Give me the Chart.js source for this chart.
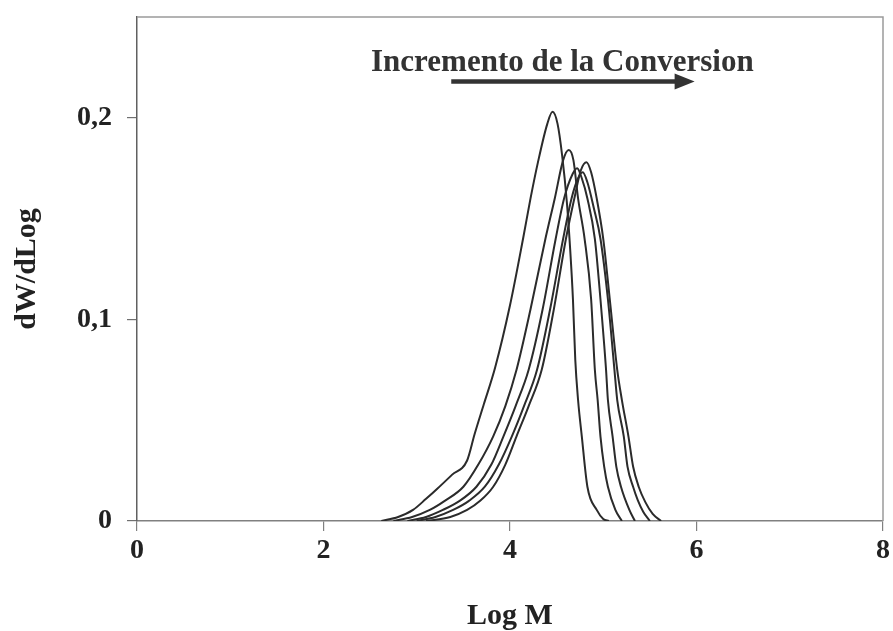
<!DOCTYPE html>
<html>
<head>
<meta charset="utf-8">
<script src="https://cdn.jsdelivr.net/npm/chart.js@4/dist/chart.umd.min.js"></script>
<style>
  html, body { margin: 0; padding: 0; background: #ffffff; }
  #wrap { width: 893px; height: 631px; }
</style>
</head>
<body>
<div id="wrap"><canvas id="c" width="893" height="631"></canvas></div>
<script>
// ---- data (x = Log M, y = dW/dLog) ----
const xTicks = [0, 2, 4, 6, 8];
const yTicks = [0, 0.1, 0.2];

const logM1 = [2.62, 2.8, 2.96, 3.1, 3.22, 3.38, 3.54, 3.62, 3.72, 3.84, 4.0, 4.14, 4.22, 4.3, 4.4, 4.456, 4.51, 4.56, 4.61, 4.645, 4.675, 4.70, 4.73, 4.77, 4.83, 4.93, 5.0, 5.06];
const dw1   = [0, 0.002, 0.0055, 0.011, 0.016, 0.023, 0.030, 0.043, 0.058, 0.076, 0.107, 0.14, 0.16, 0.178, 0.197, 0.203, 0.197, 0.181, 0.158, 0.135, 0.11, 0.08, 0.06, 0.042, 0.017, 0.0055, 0.001, 0];

const logM2 = [2.75, 2.95, 3.14, 3.3, 3.5, 3.66, 3.82, 3.95, 4.07, 4.22, 4.38, 4.48, 4.57, 4.63, 4.68, 4.73, 4.8, 4.87, 4.91, 4.94, 4.97, 5.01, 5.05, 5.13, 5.2];
const dw2   = [0, 0.002, 0.0055, 0.010, 0.017, 0.028, 0.042, 0.057, 0.075, 0.105, 0.14, 0.16, 0.179, 0.184, 0.179, 0.16, 0.14, 0.11, 0.075, 0.06, 0.042, 0.027, 0.017, 0.0055, 0];

const logM3 = [2.9, 3.1, 3.28, 3.46, 3.64, 3.8, 3.93, 4.06, 4.2, 4.35, 4.49, 4.58, 4.67, 4.72, 4.77, 4.83, 4.91, 4.97, 5.03, 5.05, 5.10, 5.14, 5.19, 5.28, 5.34];
const dw3   = [0, 0.002, 0.0055, 0.010, 0.017, 0.028, 0.042, 0.057, 0.075, 0.105, 0.14, 0.16, 0.172, 0.175, 0.17, 0.16, 0.14, 0.11, 0.075, 0.06, 0.042, 0.027, 0.017, 0.0055, 0];

const logM4 = [3.0, 3.2, 3.39, 3.56, 3.73, 3.88, 4.02, 4.15, 4.29, 4.43, 4.57, 4.66, 4.73, 4.78, 4.83, 4.9, 4.97, 5.05, 5.12, 5.15, 5.22, 5.26, 5.32, 5.37, 5.43, 5.5];
const dw4   = [0, 0.002, 0.0055, 0.010, 0.017, 0.028, 0.042, 0.057, 0.075, 0.105, 0.14, 0.16, 0.17, 0.173, 0.168, 0.155, 0.14, 0.11, 0.075, 0.06, 0.042, 0.027, 0.017, 0.0104, 0.0045, 0];

const logM5 = [3.1, 3.36, 3.54, 3.68, 3.82, 3.95, 4.07, 4.2, 4.34, 4.47, 4.6, 4.69, 4.76, 4.82, 4.87, 4.93, 5.0, 5.07, 5.15, 5.2, 5.27, 5.32, 5.38, 5.45, 5.53, 5.62];
const dw5   = [0, 0.002, 0.0055, 0.010, 0.017, 0.028, 0.042, 0.057, 0.075, 0.105, 0.14, 0.16, 0.174, 0.178, 0.173, 0.16, 0.14, 0.11, 0.075, 0.06, 0.042, 0.027, 0.017, 0.0095, 0.0035, 0];

const seriesX = [logM1, logM2, logM3, logM4, logM5];
const seriesY = [dw1, dw2, dw3, dw4, dw5];

const annotationText = 'Incremento de la Conversion';
const xTitle = 'Log M';
const yTitle = 'dW/dLog';

// ---- chart ----
const SERIF = '"Liberation Serif", "Times New Roman", serif';
const INK = '#222222';

const datasets = seriesX.map((xs, i) => ({
  data: xs.map((x, j) => ({ x: x, y: seriesY[i][j] })),
  borderColor: '#2b2b2b',
  borderWidth: 2,
  pointRadius: 0,
  fill: false,
  cubicInterpolationMode: 'monotone'
}));

const framePlugin = {
  id: 'frame',
  beforeDatasetsDraw(chart) {
    const { ctx, chartArea: a } = chart;
    ctx.save();
    ctx.strokeStyle = '#9a9a9a';
    ctx.lineWidth = 1.5;
    ctx.beginPath();
    ctx.moveTo(a.left, a.top);
    ctx.lineTo(a.right, a.top);
    ctx.lineTo(a.right, a.bottom);
    ctx.stroke();
    ctx.restore();
  }
};

const annotationPlugin = {
  id: 'annot',
  afterDraw(chart) {
    const { ctx } = chart;
    const xs = chart.scales.x, ys = chart.scales.y;
    ctx.save();
    ctx.fillStyle = '#333333';
    ctx.font = 'bold 31px ' + SERIF;
    ctx.textAlign = 'left';
    ctx.textBaseline = 'alphabetic';
    ctx.fillText(annotationText, xs.getPixelForValue(2.51), ys.getPixelForValue(0.2232));
    // arrow
    const x0 = xs.getPixelForValue(3.37), x1 = xs.getPixelForValue(5.98);
    const y0 = ys.getPixelForValue(0.218);
    ctx.strokeStyle = '#333333';
    ctx.lineWidth = 4.5;
    ctx.beginPath();
    ctx.moveTo(x0, y0);
    ctx.lineTo(x1 - 16, y0);
    ctx.stroke();
    ctx.beginPath();
    ctx.moveTo(x1, y0);
    ctx.lineTo(x1 - 20, y0 - 8);
    ctx.lineTo(x1 - 20, y0 + 8);
    ctx.closePath();
    ctx.fill();
    ctx.restore();
  }
};

new Chart(document.getElementById('c'), {
  type: 'line',
  data: { datasets },
  plugins: [framePlugin, annotationPlugin],
  options: {
    responsive: false,
    animation: false,
    devicePixelRatio: 1,
    layout: { padding: { top: 17, right: 10, left: 0, bottom: 0 } },
    plugins: { legend: { display: false }, tooltip: { enabled: false } },
    scales: {
      x: {
        type: 'linear',
        min: 0, max: 8,
        afterBuildTicks: s => { s.ticks = xTicks.map(v => ({ value: v })); },
        afterFit: s => { s.height = 110; s.paddingLeft = 0; s.paddingRight = 0; },
        ticks: {
          color: INK, padding: 3,
          font: { family: SERIF, size: 28, weight: 'bold' },
          maxRotation: 0
        },
        grid: { display: true, drawOnChartArea: false, drawTicks: true, tickLength: 10, color: '#808080', lineWidth: 1.2 },
        border: { display: true, color: '#808080', width: 1.5 },
        title: {
          display: true, text: xTitle, color: INK,
          font: { family: SERIF, size: 30, weight: 'bold' },
          padding: { top: 0, bottom: -3 }
        }
      },
      y: {
        type: 'linear',
        min: 0, max: 0.25,
        afterBuildTicks: s => { s.ticks = yTicks.map(v => ({ value: v })); },
        afterFit: s => { s.width = 137; s.paddingTop = 0; s.paddingBottom = 0; },
        ticks: {
          color: INK, padding: 15,
          font: { family: SERIF, size: 28, weight: 'bold' },
          callback: v => String(v).replace('.', ',')
        },
        grid: { display: true, drawOnChartArea: false, drawTicks: true, tickLength: 10, color: '#707070', lineWidth: 1.2 },
        border: { display: true, color: '#606060', width: 1.5 },
        title: {
          display: true, text: yTitle, color: INK,
          font: { family: SERIF, size: 30, weight: 'bold' },
          padding: { top: 9, bottom: 0 }
        }
      }
    }
  }
});
</script>
</body>
</html>
